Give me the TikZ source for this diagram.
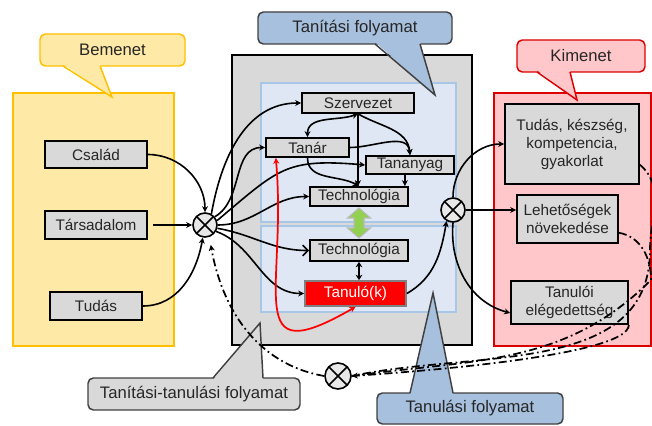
\documentclass[tikz,border=0pt]{standalone}
\usepackage{fontspec}
\setsansfont{Liberation Sans}
\usetikzlibrary{arrows.meta,calc}

\definecolor{inyellow}{HTML}{FFE9A6}
\definecolor{inedge}{HTML}{FFC000}
\definecolor{boxgray}{HTML}{D9D9D9}
\definecolor{panelblue}{HTML}{DEE7F3}
\definecolor{paneledge}{HTML}{A8C6E6}
\definecolor{calloutblue}{HTML}{A7C0DE}
\definecolor{outpink}{HTML}{FFC7CA}
\definecolor{outedge}{HTML}{DC0000}
\definecolor{linkgreen}{HTML}{92D050}
\definecolor{mixgray}{HTML}{E8E8E8}

\begin{document}
\begin{tikzpicture}[
    x=0.75pt, y=0.75pt,
    font=\sffamily,
    >={Stealth[length=4.5pt,width=4.5pt]},
    blk/.style={
      draw=black, fill=boxgray, line width=1.3pt, inner sep=1pt,
      align=center, text=black!85, font=\fontsize{11.5}{13.5}\selectfont\sffamily,
    },
    bubble/.style 2 args={
      draw=#2, fill=#1, rounded corners=4pt, line width=1.1pt,
      text=black!85, font=\fontsize{12.5}{14}\selectfont\sffamily,
    },
    mixer/.style={
      circle, draw=black, fill=mixgray, line width=1.2pt,
      minimum size=18pt, inner sep=0pt,
      path picture={\draw[line width=1.2pt] (path picture bounding box.center)
        +(45:10pt) -- +(225:10pt) +(135:10pt) -- +(-45:10pt);},
    },
    flow/.style={->, line width=1.2pt},
    feedback/.style={line width=1.3pt, dash pattern=on 6pt off 2.5pt on 1.3pt off 2.5pt},
  ]
    \useasboundingbox (0,0) rectangle (652,425);

    % ===== Containers =====
    \draw[inedge, fill=inyellow, line width=1.2pt] (13,79) rectangle (174,332);
    \draw[black, fill=boxgray, line width=1.3pt] (232,80) rectangle (472,370);
    \draw[paneledge, fill=panelblue, line width=1.1pt] (261,203) rectangle (456,342);
    \draw[paneledge, fill=panelblue, line width=1.1pt] (261,113) rectangle (456,199);
    \draw[outedge, fill=outpink, line width=1.2pt] (494,79) rectangle (651,332);

    % ===== Callouts =====
    \node[bubble={inyellow}{inedge}, minimum width=108.75pt, minimum height=24pt] (bemenet) at (112.5,375) {Bemenet};
    \fill[inyellow] (63,361) -- (112,328) -- (100,361) -- cycle;
    \draw[inedge, line width=1.1pt] (63,359) -- (112,328) -- (100,359);

    \node[bubble={calloutblue}{black!75}, minimum width=145.5pt, minimum height=24pt] (tanitas) at (355,397) {Tanítási folyamat};
    \fill[calloutblue] (375,383) -- (435,330) -- (420,383) -- cycle;
    \draw[black!75, line width=1.1pt] (375,381) -- (435,330) -- (420,381);

    \node[bubble={outpink}{outedge}, minimum width=96pt, minimum height=24pt] (kimenet) at (581,369) {Kimenet};
    \fill[outpink] (537,355) -- (577,325) -- (570,355) -- cycle;
    \draw[outedge, line width=1.1pt] (537,353) -- (577,325) -- (570,353);

    \node[bubble={boxgray}{black!75}, minimum width=159pt, minimum height=24pt] (tantan) at (194,31) {Tanítási-tanulási folyamat};
    \fill[boxgray] (213,45) -- (260,102) -- (263,45) -- cycle;
    \draw[black!75, line width=1.1pt] (213,47) -- (260,102) -- (263,47);

    \node[bubble={calloutblue}{black!75}, minimum width=139.5pt, minimum height=23.25pt] (tanulas) at (470,16.5) {Tanulási folyamat};
    \fill[calloutblue] (410,30) -- (433,132) -- (453,30) -- cycle;
    \draw[black!75, line width=1.1pt] (410,32) -- (433,132) -- (453,32);

    % ===== Input factors =====
    \node[blk, minimum width=76.5pt, minimum height=20.25pt] (csalad) at (96,270.5) {Család};
    \node[blk, minimum width=76.5pt, minimum height=21pt] (tarsadalom) at (96,200) {Társadalom};
    \node[blk, minimum width=69pt, minimum height=21pt] (tudas) at (96,119) {Tudás};
    \node[mixer] (mix1) at (205,200) {};

    % ===== Teaching / learning process =====
    \node[blk, minimum width=84pt, minimum height=15pt] (szervezet) at (358,322) {Szervezet};
    \node[blk, minimum width=62.25pt, minimum height=14.25pt] (tanar) at (307.5,277.5) {Tanár};
    \node[blk, minimum width=66pt, minimum height=13.5pt] (tananyag) at (410,260) {Tananyag};
    \node[blk, minimum width=73.5pt, minimum height=14.25pt] (tech1) at (359,228.5) {Technológia};
    \node[blk, minimum width=73.5pt, minimum height=15.75pt] (tech2) at (359,174.5) {Technológia};
    \node[blk, fill=red, draw=black!50, text=white, minimum width=75.75pt, minimum height=18.75pt] (tanulo) at (355.5,131.5) {Tanuló(k)};
    \coordinate (link) at ($(tech1.south)!0.5!(tech2.north)$);
    \draw[shift={(link)}, draw=gray!55, fill=linkgreen, line width=0.8pt]
      (0,15) -- (11.5,5) -- (5,5) -- (5,-5) -- (11.5,-5) -- (0,-15)
      -- (-11.5,-5) -- (-5,-5) -- (-5,5) -- (-11.5,5) -- cycle;

    % ===== Outputs =====
    \node[mixer] (mix2) at (453,215) {};
    \node[blk, minimum width=100.5pt, minimum height=60pt] (eredmeny) at (572,281) {Tudás, készség,\\kompetencia,\\gyakorlat};
    \node[blk, minimum width=75.75pt, minimum height=36pt] (lehetoseg) at (567.5,206) {Lehetőségek\\növekedése};
    \node[blk, minimum width=87.75pt, minimum height=32.25pt] (elegedettseg) at (569.5,122.5) {Tanulói\\elégedettség};
    \node[mixer, minimum size=19.5pt] (mix3) at (338,49) {};
    \coordinate (fbA) at (650,175);
    \coordinate (fbB) at (651,145);

    % ===== Inputs -> mixer =====
    \draw[flow] (csalad.east) to[out=0, in=90] (mix1.north);
    \draw[flow] ([xshift=4pt]tarsadalom.east) -- (mix1.west);
    \draw[flow] (tudas.east) to[out=0, in=-100] (mix1.-100);

    % ===== Mixer -> process =====
    \draw[flow] (mix1.60) to[out=80, in=180] (szervezet.west);
    \draw[flow] (mix1.40) to[out=30, in=180] (tanar.west);
    \draw[flow] (mix1.20) to[out=40, in=175, looseness=1.3] (tananyag.west);
    \draw[flow] (mix1.east) to[out=0, in=180] (tech1.west);
    \draw[line width=1.2pt, -{Straight Barb[length=4pt,width=8pt]}] (mix1.-15) to[out=-10, in=180] (tech2.west);
    \draw[flow] (mix1.-30) to[out=-20, in=180] (tanulo.west);

    % ===== Inside the process =====
    \draw[flow] (szervezet.south) -- (szervezet.south |- tech1.north);
    \draw[flow, <->] (tanar.north) to[out=90, in=-160] (szervezet.south);
    \draw[flow] (szervezet.south) to[out=-30, in=95] (tananyag.north);
    \draw[flow] (tanar.east) to[out=0, in=95] (tananyag.north);
    \draw[flow] (tanar.south) to[out=-90, in=150] (tech1.north);
    \draw[flow] ([xshift=-3pt]tech1.north east |- tananyag.south) -- ([xshift=-3pt]tech1.north east);
    \draw[{Stealth[length=4pt,width=5pt]}-{Stealth[length=4pt,width=5pt]}, line width=1pt]
      (tech2.south) -- (tech2.south |- tanulo.north);
    \draw[red, line width=1.3pt, <->] ([xshift=8pt]tanar.south west) to[out=-85, in=-150, looseness=2] (tanulo.south);

    % ===== Learner -> outputs =====
    \draw[flow] (tanulo.east) to[out=30, in=-100] (mix2.-120);
    \draw[flow] (mix2.north) to[out=90, in=180] (eredmeny.west);
    \draw[flow] (mix2.east) -- (mix2.east -| lehetoseg.west);
    \draw[flow] (mix2.south) to[out=-95, in=165] (elegedettseg.-170);

    % ===== Feedback loop =====
    \draw[feedback] (eredmeny.-17) to[out=-40, in=90] (fbA) to[out=-90, in=12] (mix3.east);
    \draw[feedback] (lehetoseg.-15) to[out=-10, in=90] (fbB) to[out=-135, in=8] (mix3.east);
    \draw[feedback, ->] (elegedettseg.south east) to[out=-90, in=4, looseness=0.3] (mix3.east);
    \draw[feedback, ->, shorten >=6pt] (mix3.west) to[out=170, in=-80] (mix1.-70);

  \end{tikzpicture}
\end{document}
